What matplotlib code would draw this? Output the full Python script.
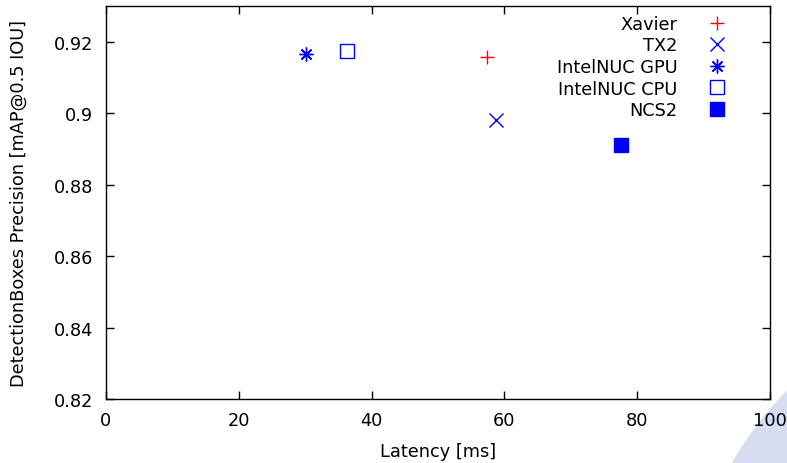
import numpy as np
import matplotlib
matplotlib.use('Agg')
import matplotlib.pyplot as plt
from matplotlib.patches import Circle
from matplotlib.transforms import IdentityTransform

# data
devices = ['Xavier', 'TX2', 'IntelNUC GPU', 'IntelNUC CPU', 'NCS2']
latency = [57.4, 58.7, 30.1, 36.3, 77.5]          # ms
precision = [0.9158, 0.8982, 0.9166, 0.9174, 0.8911]

colors = ['red', 'blue', 'blue', 'blue', 'blue']
markers = ['+', 'x', (8, 2, 0), 's', 's']
filled = [True, True, True, False, True]

plt.rcParams['font.family'] = 'DejaVu Sans'
plt.rcParams['font.size'] = 12.8

fig = plt.figure(figsize=(7.87, 4.64), dpi=100)

# slide decoration in the lower right corner (pixel coords), behind everything
fig.patches.append(Circle((1048, 464 - 648), 366, transform=IdentityTransform(),
                          facecolor='#d6ddf1', edgecolor='none', zorder=-1))

ax = fig.add_axes([106 / 787, 1 - 400 / 464, 664 / 787, 393 / 464])

for i in range(len(devices)):
    fc = colors[i] if filled[i] else 'none'
    ax.plot(latency[i], precision[i], linestyle='none', marker=markers[i],
            markersize=10, markeredgewidth=1.0, color=colors[i],
            markerfacecolor=fc, markeredgecolor=colors[i], label=devices[i])

ax.set_xlim(0, 100)
ax.set_ylim(0.82, 0.93)
ax.set_xticks([0, 20, 40, 60, 80, 100])
ax.set_yticks([0.82, 0.84, 0.86, 0.88, 0.9, 0.92])
ax.set_yticklabels(['0.82', '0.84', '0.86', '0.88', '0.9', '0.92'])
ax.tick_params(direction='in', top=True, right=True, length=6, width=1, pad=9)
for s in ax.spines.values():
    s.set_linewidth(1.0)

ax.set_xlabel('Latency [ms]', labelpad=9)
ax.set_ylabel('DetectionBoxes Precision [mAP@0.5 IOU]', labelpad=19)

ax.legend(loc='upper right', markerfirst=False, frameon=False,
          labelspacing=0.2, handletextpad=1.5, handlelength=1.4,
          bbox_to_anchor=(0.952, 1.0), borderaxespad=0.1)

fig.savefig('out.png', dpi=100)
